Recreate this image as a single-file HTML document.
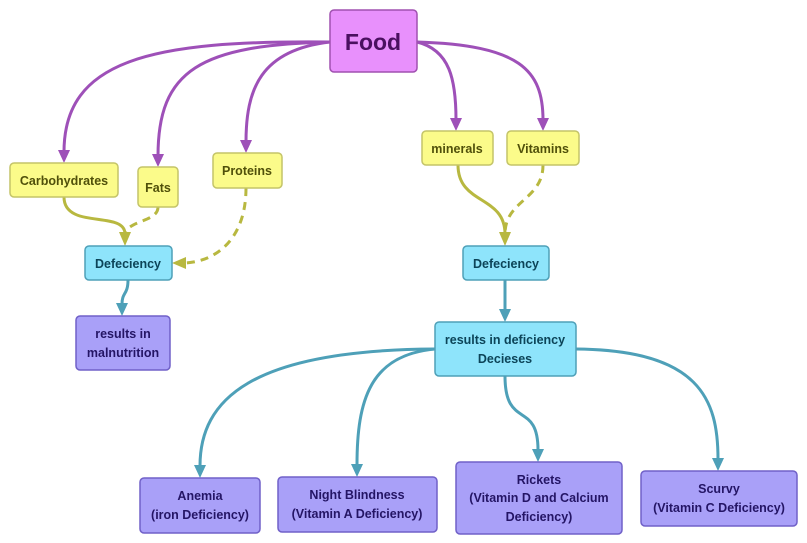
<!DOCTYPE html>
<html><head><meta charset="utf-8"><style>
html,body{margin:0;padding:0;background:#fff;}
svg{display:block;font-family:"Liberation Sans","DejaVu Sans",sans-serif;}
</style></head><body>
<svg width="807" height="543" viewBox="0 0 807 543" xmlns="http://www.w3.org/2000/svg">
<g fill="none" stroke-width="3">
<g stroke="#9e50b8">
<path d="M330,42 C150,40 64,60 64,152"/>
<path d="M330,42 C200,45 158,70 158,156"/>
<path d="M330,42 C260,50 246,90 246,142"/>
<path d="M417,42 C450,50 456,80 456,120"/>
<path d="M417,42 C520,45 543,70 543,120"/>
</g>
<g stroke="#b8b840">
<path d="M64,197 C64,230 125,210 125,234"/>
<path d="M158,207 C158,222 128,220 125,234" stroke-dasharray="8,6"/>
<path d="M246,188 C246,240 215,262 184,263" stroke-dasharray="8,6"/>
<path d="M458,165 C458,205 505,195 505,234"/>
<path d="M543,165 C543,200 505,200 505,234" stroke-dasharray="8,6"/>
</g>
<g stroke="#4ea0b8">
<path d="M128,280 C128,295 122,292 122,304"/>
<path d="M505,280 L505,310"/>
<path d="M435,349 C250,350 200,400 200,466"/>
<path d="M435,349 C370,355 357,400 357,465"/>
<path d="M505,376 C505,430 538,400 538,450"/>
<path d="M576,349 C700,350 718,400 718,459"/>
</g>
</g>
<g>
<g fill="#9e50b8">
<path d="M58,150 L70,150 L64,163 Z"/>
<path d="M152,154 L164,154 L158,167 Z"/>
<path d="M240,140 L252,140 L246,153 Z"/>
<path d="M450,118 L462,118 L456,131 Z"/>
<path d="M537,118 L549,118 L543,131 Z"/>
</g>
<g fill="#b8b840">
<path d="M119,232 L131,232 L125,246 Z"/>
<path d="M499,232 L511,232 L505,246 Z"/>
<path d="M172,263 L186,257 L186,269 Z"/>
</g>
<g fill="#4ea0b8">
<path d="M116,303 L128,303 L122,316 Z"/>
<path d="M499,309 L511,309 L505,322 Z"/>
<path d="M194,465 L206,465 L200,478 Z"/>
<path d="M351,464 L363,464 L357,477 Z"/>
<path d="M532,449 L544,449 L538,462 Z"/>
<path d="M712,458 L724,458 L718,471 Z"/>
</g>
</g>
<g stroke-width="1.5">
<rect x="330" y="10" width="87" height="62" rx="4" fill="#e890fc" stroke="#a050b0"/>
<g fill="#fbfb8a" stroke="#c4c468">
<rect x="10" y="163" width="108" height="34" rx="4"/>
<rect x="138" y="167" width="40" height="40" rx="4"/>
<rect x="213" y="153" width="69" height="35" rx="4"/>
<rect x="422" y="131" width="71" height="34" rx="4"/>
<rect x="507" y="131" width="72" height="34" rx="4"/>
</g>
<g fill="#8ee4fb" stroke="#4ea0b8">
<rect x="85" y="246" width="87" height="34" rx="4"/>
<rect x="463" y="246" width="86" height="34" rx="4"/>
<rect x="435" y="322" width="141" height="54" rx="4"/>
</g>
<g fill="#a9a0f8" stroke="#7060c8">
<rect x="76" y="316" width="94" height="54" rx="4"/>
<rect x="140" y="478" width="120" height="55" rx="4"/>
<rect x="278" y="477" width="159" height="55" rx="4"/>
<rect x="456" y="462" width="166" height="72" rx="4"/>
<rect x="641" y="471" width="156" height="55" rx="4"/>
</g>
</g>
<g text-anchor="middle" font-weight="bold">
<text x="373" y="50" font-size="23" fill="#4a1060">Food</text>
<g font-size="12.5" fill="#50500a">
<text x="64" y="185">Carbohydrates</text>
<text x="158" y="192">Fats</text>
<text x="247" y="175">Proteins</text>
<text x="457" y="153">minerals</text>
<text x="543" y="153">Vitamins</text>
</g>
<g font-size="12.5" fill="#0c4458">
<text x="128" y="268">Defeciency</text>
<text x="506" y="268">Defeciency</text>
<text x="505" y="344">results in deficiency</text>
<text x="505" y="363">Decieses</text>
</g>
<g font-size="12.5" fill="#241565">
<text x="123" y="338">results in</text>
<text x="123" y="357">malnutrition</text>
<text x="200" y="500">Anemia</text>
<text x="200" y="519">(iron Deficiency)</text>
<text x="357" y="499">Night Blindness</text>
<text x="357" y="518">(Vitamin A Deficiency)</text>
<text x="539" y="484">Rickets</text>
<text x="539" y="502">(Vitamin D and Calcium</text>
<text x="539" y="521">Deficiency)</text>
<text x="719" y="493">Scurvy</text>
<text x="719" y="512">(Vitamin C Deficiency)</text>
</g>
</g>
</svg>
</body></html>
